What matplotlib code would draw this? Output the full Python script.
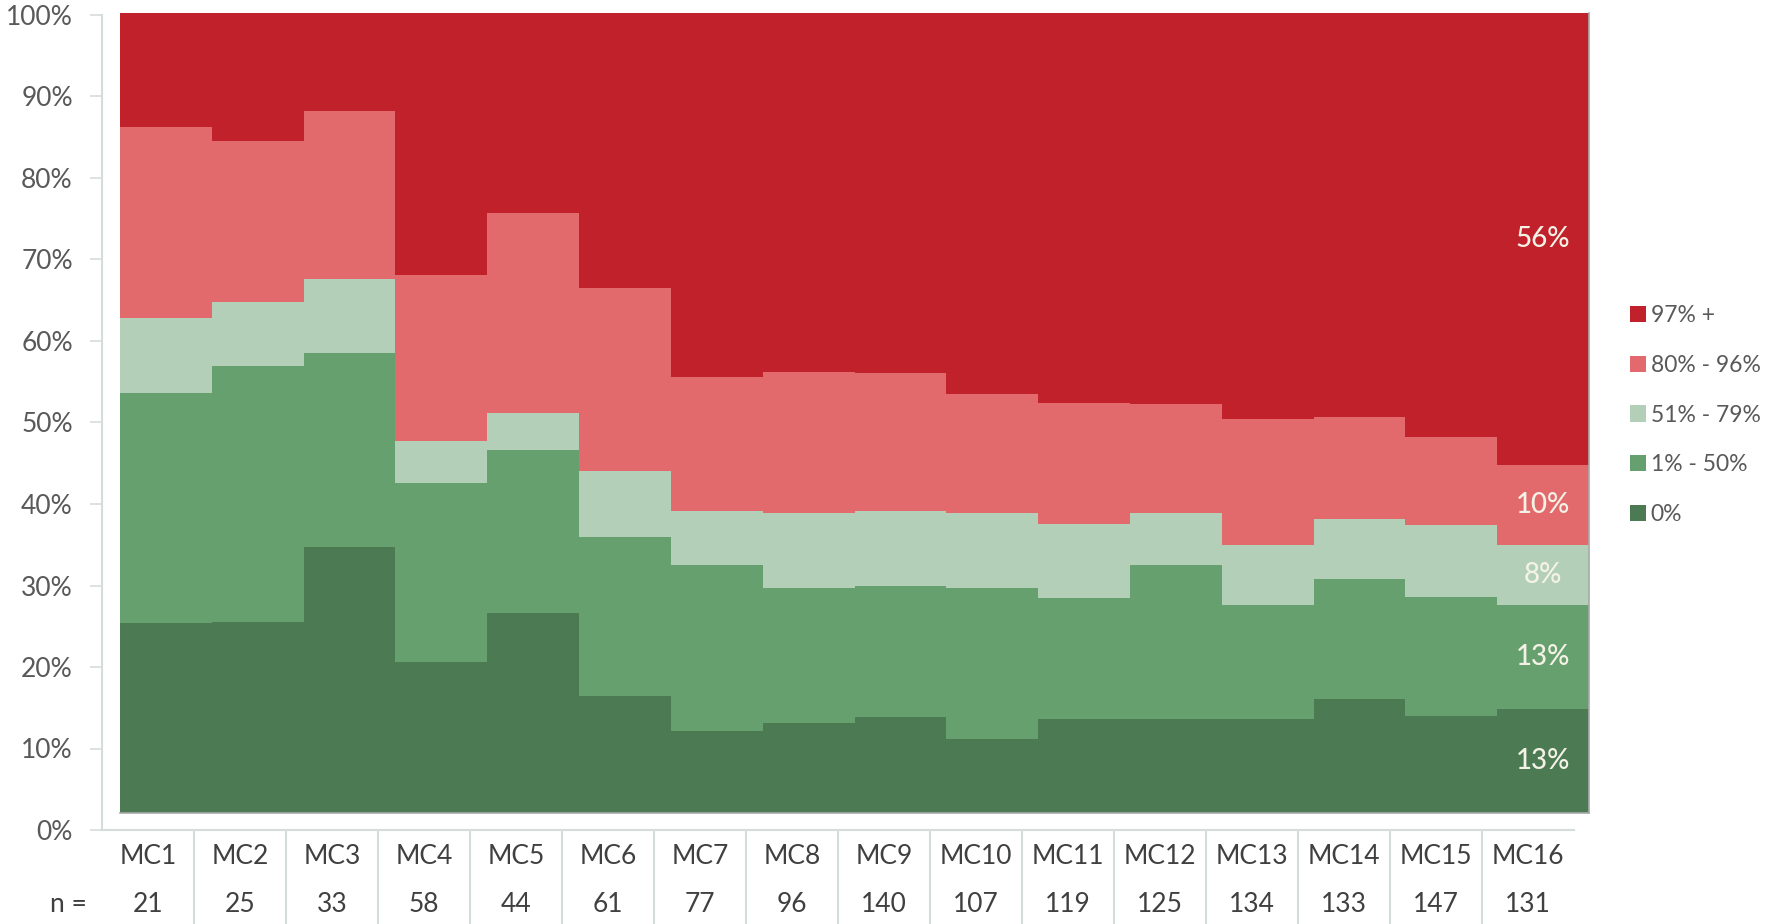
import numpy as np
import matplotlib
matplotlib.use("Agg")
import matplotlib.pyplot as plt
from matplotlib.patches import Patch
from matplotlib.ticker import FuncFormatter

plt.rcParams['font.family'] = ['Lato', 'DejaVu Sans']

# data (percent of each group)
groups = ['MC%d' % i for i in range(1, 17)]
n_values = [21, 25, 33, 58, 44, 61, 77, 96, 140, 107, 119, 125, 134, 133, 147, 131]
zero = [23.7, 23.9, 33.3, 18.9, 25.0, 14.6, 10.2, 11.3, 12.0, 9.3, 11.8, 11.8, 11.8, 14.2, 12.1, 13.0]
p1_50 = [28.8, 32.0, 24.2, 22.4, 20.4, 19.9, 20.8, 16.8, 16.4, 18.8, 15.1, 19.2, 14.2, 15.1, 14.9, 13.0]
p51_79 = [9.4, 8.0, 9.2, 5.2, 4.6, 8.2, 6.7, 9.4, 9.4, 9.4, 9.2, 6.5, 7.5, 7.4, 9.0, 7.5]
p80_96 = [23.9, 20.1, 21.1, 20.8, 25.0, 22.9, 16.8, 17.6, 17.2, 14.9, 15.2, 13.6, 15.8, 12.8, 11.0, 10.0]
p97 = [14.2, 16.0, 12.2, 32.7, 25.0, 34.4, 45.5, 44.9, 45.0, 47.6, 48.7, 48.9, 50.7, 50.5, 53.0, 56.5]
last_labels = ['13%', '13%', '8%', '10%', '56%']

series = [zero, p1_50, p51_79, p80_96, p97]
names = ['0%', '1% - 50%', '51% - 79%', '80% - 96%', '97% +']
colors = ['#4b7a53', '#66a06e', '#b3cfb8', '#e26a6c', '#c0212a']

W, H = 1768, 924
fig = plt.figure(figsize=(W / 100, H / 100), dpi=100)

# frame axes: y ticks and category table
ax = fig.add_axes([102 / W, (H - 830) / H, (1574 - 102) / W, (830 - 15) / H])
ax.set_xlim(0, 16)
ax.set_ylim(0, 1)
ax.set_yticks(np.arange(0, 1.01, 0.1))
ax.yaxis.set_major_formatter(FuncFormatter(lambda v, p: '%d%%' % round(v * 100)))
ax.tick_params(axis='y', length=9, width=1.2, color='#d5dcdc', labelsize=19,
               labelcolor='#595959', pad=12)
ax.set_xticks([])
for s in ['top', 'right']:
    ax.spines[s].set_visible(False)
for s in ['left', 'bottom']:
    ax.spines[s].set_color('#d5dcdc')
    ax.spines[s].set_linewidth(1.5)
ax.patch.set_alpha(0)

bottom_frac = -(H - 830) / 815
for k in range(1, 16):
    ax.plot([k, k], [0, bottom_frac], color='#d5dcdc', lw=1.5, clip_on=False)
for i, (g, n) in enumerate(zip(groups, n_values)):
    ax.text(i + 0.5, -27 / 815, g, ha='center', va='center', fontsize=19, color='#404040')
    ax.text(i + 0.5, -75 / 815, str(n), ha='center', va='center', fontsize=19, color='#404040')
fig.text(68 / W, (H - 905) / H, 'n =', ha='center', va='center', fontsize=19, color='#404040')

# filled stepped area (slightly offset inside the frame)
ax2 = fig.add_axes([120 / W, (H - 813) / H, (1589 - 120) / W, (813 - 13) / H])
x = np.arange(len(groups))
base = np.zeros(len(groups))
for vals, c in zip(series, colors):
    ax2.bar(x, vals, width=1.0, bottom=base, align='edge', color=c, linewidth=0)
    base = base + np.array(vals)
ax2.set_xlim(0, 16)
ax2.set_ylim(0, 100)
ax2.set_xticks([])
ax2.set_yticks([])
for s in ['top', 'left']:
    ax2.spines[s].set_visible(False)
for s in ['right', 'bottom']:
    ax2.spines[s].set_color('#a8aaaa')
    ax2.spines[s].set_linewidth(1.2)

base = 0
for vals, lab in zip(series, last_labels):
    v = vals[-1]
    ax2.text(15.5, base + v / 2, lab, ha='center', va='center', fontsize=20,
             fontweight='medium', color='#f4f2e6')
    base += v

handles = [Patch(facecolor=c, edgecolor='none') for c in colors[::-1]]
fig.legend(handles, names[::-1], loc='center left', bbox_to_anchor=(1630 / W, (H - 415) / H),
           frameon=False, fontsize=16.5, labelcolor='#595959', handlelength=0.7,
           handleheight=0.7, handletextpad=0.2, labelspacing=1.25, borderpad=0,
           borderaxespad=0)

fig.savefig('out.png', dpi=100)
